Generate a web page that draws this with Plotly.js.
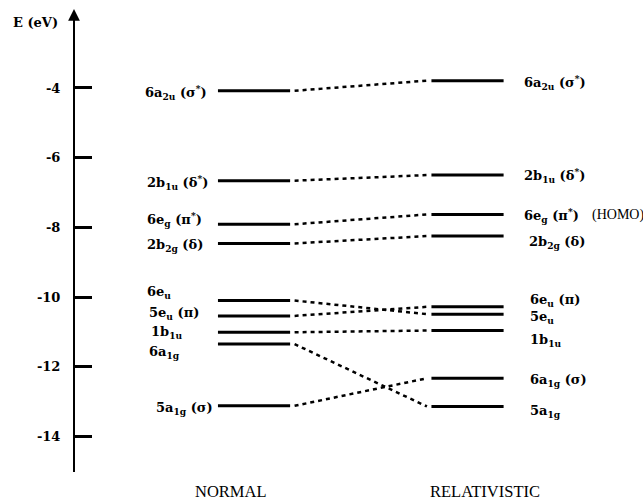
<!DOCTYPE html>
<html>
<head>
<meta charset="utf-8">
<script src="https://cdn.plot.ly/plotly-3.0.1.min.js"></script>
<style>html,body{margin:0;padding:0;background:#fff;}#chart{width:643px;height:503px;}</style>
</head>
<body>
<div id="chart"></div>
<script>
// ---- data ----
const columns = ['NORMAL', 'RELATIVISTIC'];
const normalLabels = ['6a<sub>2u</sub> (σ<sup>*</sup>)', '2b<sub>1u</sub> (δ<sup>*</sup>)', '6e<sub>g</sub> (π<sup>*</sup>)', '2b<sub>2g</sub> (δ)', '6e<sub>u</sub>', '5e<sub>u</sub> (π)', '1b<sub>1u</sub>', '6a<sub>1g</sub>', '5a<sub>1g</sub> (σ)'];
const normalE = [-4.08, -6.66, -7.91, -8.46, -10.10, -10.54, -11.01, -11.35, -13.12];
const relLabels = ['6a<sub>2u</sub> (σ<sup>*</sup>)', '2b<sub>1u</sub> (δ<sup>*</sup>)', '6e<sub>g</sub> (π<sup>*</sup>)', '2b<sub>2g</sub> (δ)', '6e<sub>u</sub> (π)', '5e<sub>u</sub>', '1b<sub>1u</sub>', '6a<sub>1g</sub> (σ)', '5a<sub>1g</sub>'];
const relE = [-3.79, -6.50, -7.63, -8.25, -10.28, -10.49, -10.96, -12.33, -13.14];
// correlation: normal level i -> relativistic level link[i]
const link = [0, 1, 2, 3, 5, 4, 6, 8, 7];
const homoIndex = 2;
const tickVals = [-4, -6, -8, -10, -12, -14];
const tickText = ['-4', '-6', '-8', '-10', '-12', '-14'];

// ---- layout helpers (positions / styles) ----
const half = 0.169;
const connFrom = 0.19, connTo = 0.81;
const leftLabelX = [-0.52, -0.51, -0.51, -0.51, -0.51, -0.50, -0.49, -0.50, -0.47];
const leftShift = [-0.04, -0.04, 0.15, -0.05, 0.24, 0.08, -0.02, -0.23, -0.09];
const rightLabelX = [1.255, 1.255, 1.255, 1.278, 1.283, 1.283, 1.283, 1.283, 1.283];
const rightShift = [-0.04, 0.0, -0.02, -0.17, 0.17, -0.11, -0.30, -0.05, -0.13];
const SERIF = 'Liberation Serif';
const BSERIF = 'DejaVu Serif';
const labelFont = {family: BSERIF, size: 13, color: '#000', weight: 'bold'};

const traces = [];
normalE.forEach(e => traces.push({x: [-half, half], y: [e, e], mode: 'lines', line: {color: '#000', width: 3}, hoverinfo: 'skip'}));
relE.forEach(e => traces.push({x: [1 - half, 1 + half], y: [e, e], mode: 'lines', line: {color: '#000', width: 3}, hoverinfo: 'skip'}));
normalE.forEach((e, i) => traces.push({x: [connFrom, connTo], y: [e, relE[link[i]]], mode: 'lines', line: {color: '#000', width: 2.5, dash: '4px,4px'}, hoverinfo: 'skip'}));

const annotations = [];
normalLabels.forEach((t, i) => annotations.push({x: leftLabelX[i], y: normalE[i] + leftShift[i], xref: 'x', yref: 'y', text: t, showarrow: false, xanchor: 'left', yanchor: 'middle', font: labelFont}));
relLabels.forEach((t, i) => annotations.push({x: rightLabelX[i], y: relE[i] + rightShift[i], xref: 'x', yref: 'y', text: t, showarrow: false, xanchor: 'left', yanchor: 'middle', font: labelFont}));
annotations.push({x: 1.575, y: relE[homoIndex] + rightShift[homoIndex], xref: 'x', yref: 'y', text: '(HOMO)', showarrow: false, xanchor: 'left', yanchor: 'middle', font: {family: SERIF, size: 14, color: '#000'}});
// column titles
columns.forEach((c, i) => annotations.push({x: i === 0 ? -0.108 : 1.082, y: 0.022, xref: 'x', yref: 'paper', text: c, showarrow: false, xanchor: 'center', yanchor: 'middle', font: {family: SERIF, size: 16.5, color: '#000'}}));
// axis title
annotations.push({x: 0.055, y: 0.955, xref: 'paper', yref: 'paper', text: 'E (eV)', showarrow: false, xanchor: 'center', yanchor: 'middle', font: {family: BSERIF, size: 13, color: '#000', weight: 'bold'}});
// axis arrow
annotations.push({x: 0.1151, y: 0.982, xref: 'paper', yref: 'paper', ax: 0, ay: 22, text: '', showarrow: true, arrowhead: 2, arrowsize: 1.3, arrowwidth: 1.8, arrowcolor: '#000'});

const layout = {
  width: 643, height: 503,
  margin: {l: 0, r: 0, t: 0, b: 0},
  paper_bgcolor: '#fff', plot_bgcolor: 'rgba(0,0,0,0)',
  showlegend: false,
  xaxis: {visible: false, range: [-1.19, 1.822], domain: [0, 1], fixedrange: true},
  yaxis: {
    anchor: 'free', position: 0.1151, domain: [0.0616, 0.972], range: [-15.02, -1.88],
    showline: true, linecolor: '#000', linewidth: 2,
    ticks: 'inside', ticklen: 17, tickwidth: 3, tickcolor: '#000',
    tickvals: tickVals, ticktext: tickText, ticklabelstandoff: 10,
    tickfont: {family: BSERIF, size: 13, color: '#000', weight: 'bold'},
    showgrid: false, zeroline: false, fixedrange: true
  },
  annotations: annotations
};
Plotly.newPlot('chart', traces, layout, {staticPlot: true, displayModeBar: false});
</script>
</body>
</html>
